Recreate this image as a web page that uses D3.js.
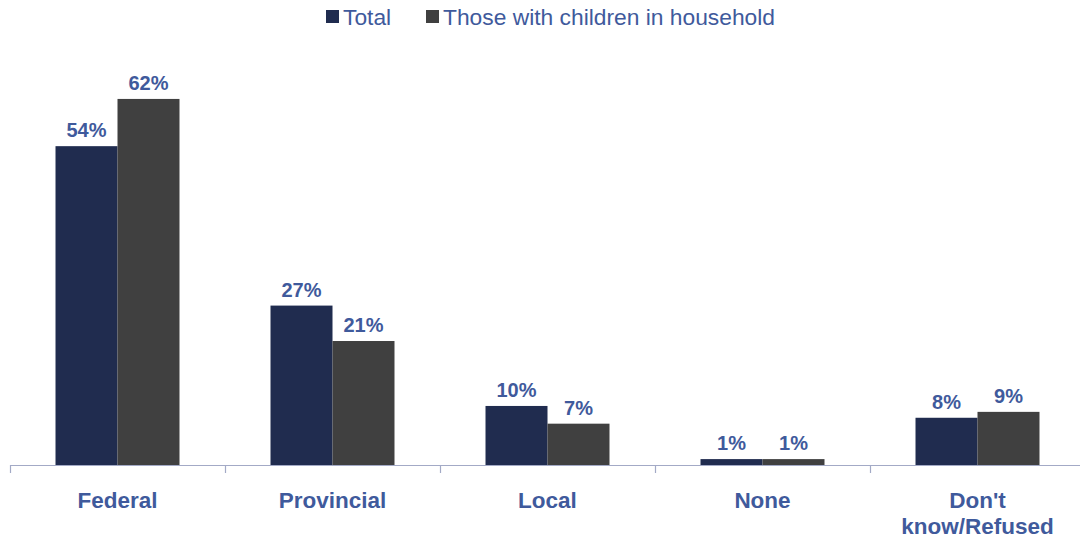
<!DOCTYPE html>
<html>
<head>
<meta charset="utf-8">
<script src="https://cdn.jsdelivr.net/npm/d3@7"></script>
<style>
  html, body { margin: 0; padding: 0; background: #fff; }
  svg { display: block; font-family: Arial, "Liberation Sans", sans-serif; }
</style>
</head>
<body>
<svg id="chart" width="1080" height="538"></svg>
<script>
// Level of government seen as responsible (percent of respondents)
const categories = ["Federal", "Provincial", "Local", "None", "Don't\nknow/Refused"];
const seriesNames = ["Total", "Those with children in household"];
const totalValues = [54, 27, 10, 1, 8];
const childrenValues = [62, 21, 7, 1, 9];

const colors = ["#202C4F", "#404040"];
const textColor = "#3F5A9C";

const svg = d3.select("#chart");
const baseY = 465;

const x = d3.scaleBand().domain(categories).range([10, 1085]).paddingInner(0).paddingOuter(0);
const x1 = d3.scaleBand().domain(seriesNames).range([0, x.bandwidth()]).paddingInner(0).paddingOuter(0.734);
const y = d3.scaleLinear().domain([0, 70]).range([baseY, baseY - 413.3]);

const data = categories.map((c, i) => ({
  category: c,
  values: [
    { series: seriesNames[0], value: totalValues[i] },
    { series: seriesNames[1], value: childrenValues[i] }
  ]
}));

// Bars
const groups = svg.append("g").selectAll("g").data(data).join("g")
  .attr("transform", d => `translate(${x(d.category)},0)`);

groups.selectAll("rect").data(d => d.values).join("rect")
  .attr("x", d => x1(d.series))
  .attr("width", x1.bandwidth())
  .attr("y", d => y(d.value))
  .attr("height", d => y(0) - y(d.value))
  .attr("fill", (d, i) => colors[i]);

// Value labels
groups.selectAll("text").data(d => d.values).join("text")
  .attr("x", d => x1(d.series) + x1.bandwidth() / 2)
  .attr("y", d => y(d.value) - 9)
  .attr("text-anchor", "middle")
  .attr("font-size", 20)
  .attr("font-weight", "bold")
  .attr("fill", textColor)
  .text(d => d.value + "%");

// Category axis
const axis = svg.append("g");
axis.append("line")
  .attr("x1", x.range()[0]).attr("x2", x.range()[1])
  .attr("y1", baseY + 0.5).attr("y2", baseY + 0.5)
  .attr("stroke", "#A3AAC6").attr("stroke-width", 1.2);
const tickPositions = categories.map(c => x(c)).concat([x.range()[1]]);
axis.selectAll("line.tick").data(tickPositions).join("line")
  .attr("class", "tick")
  .attr("x1", d => Math.round(d) + 0.5).attr("x2", d => Math.round(d) + 0.5)
  .attr("y1", baseY).attr("y2", baseY + 8)
  .attr("stroke", "#A3AAC6").attr("stroke-width", 1.2);

const catLabels = axis.selectAll("text").data(categories).join("text")
  .attr("text-anchor", "middle")
  .attr("font-size", 22.5)
  .attr("font-weight", "bold")
  .attr("fill", textColor);
catLabels.each(function(d) {
  const lines = d.split("\n");
  const t = d3.select(this);
  lines.forEach((ln, j) => {
    t.append("tspan")
      .attr("x", x(d) + x.bandwidth() / 2)
      .attr("y", 508 + j * 26)
      .text(ln);
  });
});

// Legend
const legendItems = [
  { name: seriesNames[0], x: 326, color: colors[0] },
  { name: seriesNames[1], x: 426, color: colors[1] }
];
const legend = svg.append("g");
legend.selectAll("rect").data(legendItems).join("rect")
  .attr("x", d => d.x).attr("y", 10)
  .attr("width", 13).attr("height", 13)
  .attr("fill", d => d.color);
legend.selectAll("text").data(legendItems).join("text")
  .attr("x", d => d.x + 17).attr("y", 25)
  .attr("font-size", 22.8)
  .attr("fill", textColor)
  .text(d => d.name);
</script>
</body>
</html>
